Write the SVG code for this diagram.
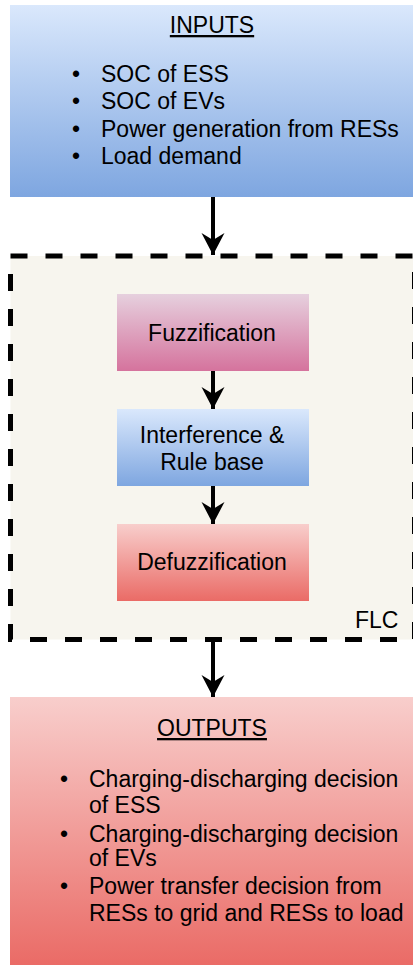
<svg xmlns="http://www.w3.org/2000/svg" width="413" height="965" viewBox="0 0 413 965">
  <defs>
    <linearGradient id="gBlue" x1="0" y1="0" x2="0" y2="1">
      <stop offset="0" stop-color="#dae8fc"/>
      <stop offset="1" stop-color="#7ea6e0"/>
    </linearGradient>
    <linearGradient id="gRed" x1="0" y1="0" x2="0" y2="1">
      <stop offset="0" stop-color="#f8cecc"/>
      <stop offset="1" stop-color="#ea6b66"/>
    </linearGradient>
    <linearGradient id="gPink" x1="0" y1="0" x2="0" y2="1">
      <stop offset="0" stop-color="#e6d0de"/>
      <stop offset="1" stop-color="#d5739d"/>
    </linearGradient>
    <marker id="arrow" viewBox="0 0 24 24" refX="22" refY="12" markerWidth="24" markerHeight="24" markerUnits="userSpaceOnUse" orient="auto">
      <path d="M22,12 L0,0.5 L7,12 L0,23.5 Z" fill="#000"/>
    </marker>
  </defs>
  <style>
    text { font-family: "Liberation Sans", Arial, sans-serif; fill: #000; }
    .big { font-size: 23px; }
    .mid { font-size: 23px; }
    .c { text-anchor: middle; }
    .u { text-decoration: underline; }
    .conn { stroke: #000; stroke-width: 4; fill: none; marker-end: url(#arrow); }
  </style>

  <!-- FLC container -->
  <g id="flc">
    <rect x="10.5" y="256" width="404" height="383.5" fill="#f7f5ee" stroke="#000" stroke-width="5" stroke-dasharray="17 18"/>
    <text class="mid" x="355" y="628">FLC</text>
  </g>

  <!-- Inputs -->
  <g id="inputs">
    <rect x="10" y="5" width="403" height="192" fill="url(#gBlue)"/>
    <text class="big c u" x="212" y="33">INPUTS</text>
    <g class="big">
      <text x="72" y="82">•</text><text x="101" y="82">SOC of ESS</text>
      <text x="72" y="109">•</text><text x="101" y="109">SOC of EVs</text>
      <text x="72" y="137">•</text><text x="101" y="137">Power generation from RESs</text>
      <text x="72" y="164">•</text><text x="101" y="164">Load demand</text>
    </g>
  </g>

  <!-- Fuzzification -->
  <g id="fuzzification">
    <rect x="117" y="294" width="192" height="77" fill="url(#gPink)"/>
    <text class="mid c" x="212" y="341">Fuzzification</text>
  </g>

  <!-- Inference & rule base -->
  <g id="rulebase">
    <rect x="117" y="409" width="192" height="77" fill="url(#gBlue)"/>
    <text class="mid c" x="212" y="443">Interference &amp;</text>
    <text class="mid c" x="212" y="470">Rule base</text>
  </g>

  <!-- Defuzzification -->
  <g id="defuzzification">
    <rect x="117" y="524" width="192" height="77" fill="url(#gRed)"/>
    <text class="mid c" x="212" y="570">Defuzzification</text>
  </g>

  <!-- Outputs -->
  <g id="outputs">
    <rect x="10" y="697" width="403" height="268" fill="url(#gRed)"/>
    <text class="big c u" x="212" y="736">OUTPUTS</text>
    <g class="big">
      <text x="60" y="787">•</text><text x="89" y="787">Charging-discharging decision</text>
      <text x="89" y="813">of ESS</text>
      <text x="60" y="842">•</text><text x="89" y="842">Charging-discharging decision</text>
      <text x="89" y="866">of EVs</text>
      <text x="60" y="894">•</text><text x="89" y="894">Power transfer decision from</text>
      <text x="89" y="921">RESs to grid and RESs to load</text>
    </g>
  </g>

  <!-- Connectors -->
  <g id="connectors">
    <line class="conn" x1="213" y1="197" x2="213" y2="255"/>
    <line class="conn" x1="213" y1="371" x2="213" y2="409"/>
    <line class="conn" x1="213" y1="486" x2="213" y2="524"/>
    <line class="conn" x1="213" y1="642" x2="213" y2="697"/>
  </g>
</svg>
